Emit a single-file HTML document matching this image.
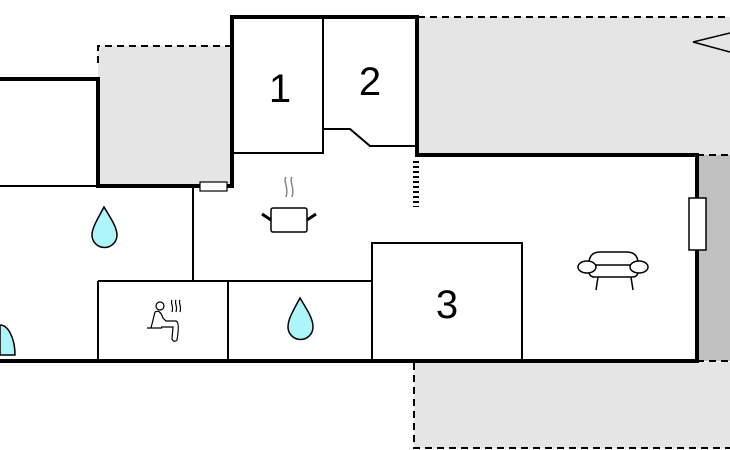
<!DOCTYPE html>
<html><head><style>body{margin:0;background:#fff}svg{display:block}</style></head><body>
<svg width="730" height="450" viewBox="0 0 730 450" xmlns="http://www.w3.org/2000/svg" font-family="Liberation Sans, sans-serif">
<rect x="98" y="46" width="134" height="141" fill="#e5e5e5"/>
<rect x="418" y="17" width="312" height="138" fill="#e5e5e5"/>
<rect x="697" y="155" width="33" height="206" fill="#c0c0c0"/>
<rect x="414" y="362" width="316" height="86" fill="#e5e5e5"/>
<g stroke="#000" stroke-width="2" fill="none" stroke-dasharray="7,5">
<path d="M232 46H98V68"/>
<path d="M418 17H730"/>
<path d="M697 155H730M697 361H730"/>
<path d="M414 363V448H730"/>
</g>
<g stroke="#000" stroke-width="2" fill="none">
<path d="M0 186H98"/>
<path d="M232 153H323V17"/>
<path d="M323 129H350L370 146H416"/>
<path d="M193 186V281"/>
<path d="M98 281H372"/>
<path d="M98 281V361M228 281V361"/>
<path d="M372 361V243H522V361"/>
</g>
<g stroke="#000" stroke-width="4" fill="none">
<path d="M0 79H98V186H232V17H417V155H697V361H0"/>
</g>
<path d="M416 161V207" stroke="#000" stroke-width="6" stroke-dasharray="2,3"/>
<rect x="200" y="182" width="27" height="9" fill="#fff" stroke="#000" stroke-width="1.2"/>
<rect x="689" y="198" width="17" height="52" fill="#fff" stroke="#000" stroke-width="1.5"/>
<path d="M730 33L693 42L730 52" fill="none" stroke="#000" stroke-width="1.5"/>
<text x="280" y="102" font-size="40" text-anchor="middle">1</text>
<text x="370" y="95" font-size="40" text-anchor="middle">2</text>
<text x="447" y="318" font-size="40" text-anchor="middle">3</text>
<path d="M104 207C97 220 92 228 92 235A12 12 0 0 0 117 235C117 228 112 220 104 207Z" fill="#aef4fb" stroke="#000" stroke-width="1.5"/>
<path d="M300 298C293 311 288 319 288 327A12 12 0 0 0 313 327C313 319 308 311 300 298Z" fill="#aef4fb" stroke="#000" stroke-width="1.5"/>
<path d="M0 325A15 30 0 0 1 15 355H0Z" fill="#aef4fb" stroke="#000" stroke-width="1.5"/>
<g stroke="#000" stroke-width="1.5" fill="none">
<rect x="271" y="208" width="36" height="24" rx="2" fill="#fff"/>
<path d="M262 214L271 220M316 214L307 220" stroke-width="3"/>
</g>
<path d="M286 177c-3 5 3 10 0 20M292 177c-3 5 3 10 0 20" stroke="#888" stroke-width="1.5" fill="none"/>
<g stroke="#000" stroke-width="1.2" fill="none">
<circle cx="160" cy="306" r="4"/>
<path d="M147 328H162M151 328L155 312Q160 309 163 318L166 321H176Q180 322 177 340Q174 343 172 339L173 327H161"/>
<path d="M172 300c-2 3 2 6 0 12M176 300c-2 3 2 6 0 12M180 300c-2 3 2 6 0 12"/>
</g>
<g stroke="#000" stroke-width="1.5" fill="#fff">
<path d="M589 262Q590 252 600 252H627Q637 252 638 262"/>
<rect x="589" y="265" width="49" height="12" rx="5"/>
<ellipse cx="587" cy="267" rx="9" ry="6"/>
<ellipse cx="639" cy="267" rx="9" ry="6"/>
<path d="M598 277L596 290M631 277L633 290" fill="none"/>
</g>
</svg>
</body></html>
